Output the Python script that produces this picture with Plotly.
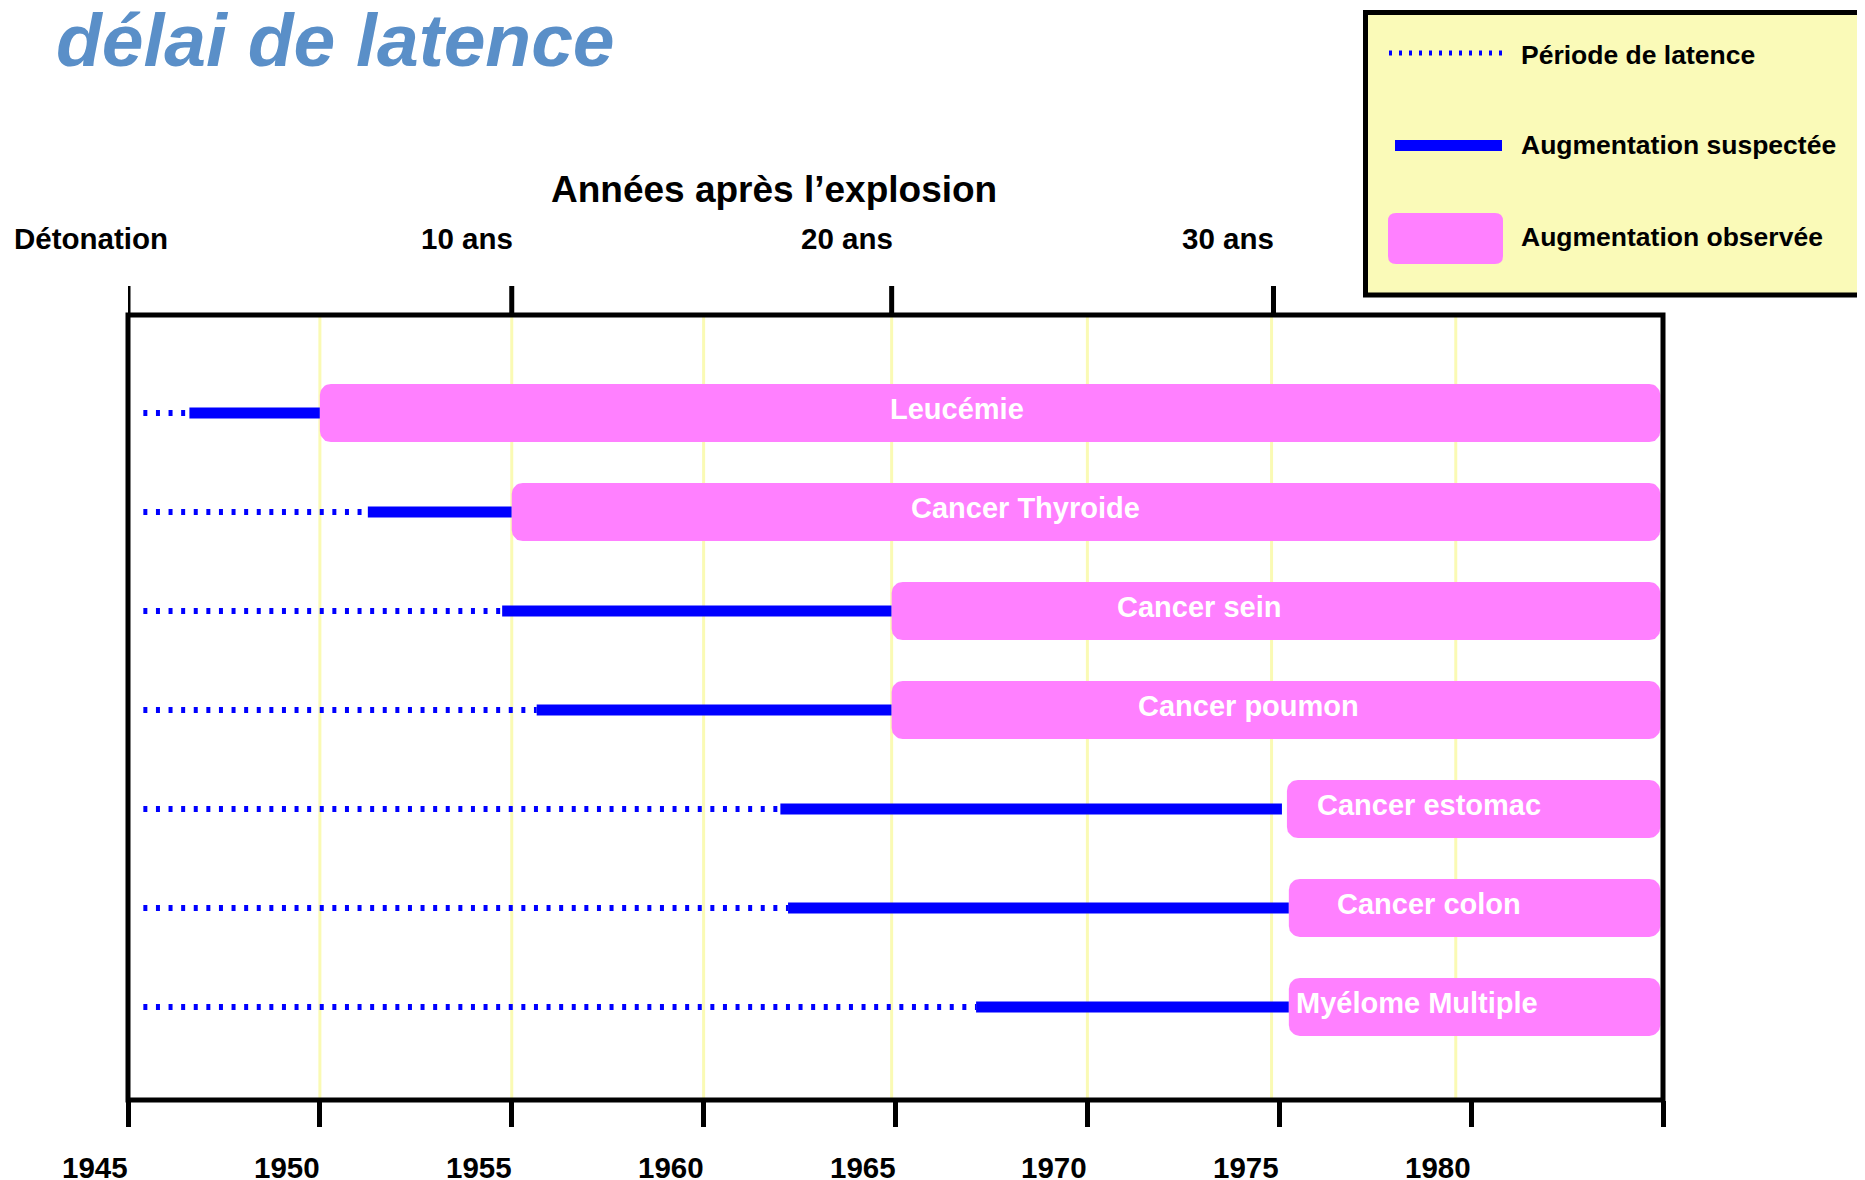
import math

import plotly.graph_objects as go

# rows, top to bottom
DISEASES = [
    "Leucémie",
    "Cancer Thyroide",
    "Cancer sein",
    "Cancer poumon",
    "Cancer estomac",
    "Cancer colon",
    "Myélome Multiple",
]
# calendar years
LATENCY_START = [1945.4, 1945.4, 1945.4, 1945.4, 1945.4, 1945.4, 1945.4]
SUSPECT_START = [1946.6, 1951.25, 1954.75, 1955.65, 1962.0, 1962.2, 1967.1]
SUSPECT_END = [1950.0, 1955.0, 1964.9, 1964.9, 1975.07, 1975.25, 1975.25]
OBSERVED_START = [1950.0, 1955.0, 1964.9, 1964.9, 1975.2, 1975.25, 1975.25]
OBSERVED_END = [1984.93, 1984.93, 1984.93, 1984.93, 1984.93, 1984.93, 1984.93]
LABEL_X = [1966.6, 1968.4, 1972.9, 1974.2, 1978.9, 1978.9, 1978.6]

BOTTOM_TICK_YEARS = [1945, 1950, 1955, 1960, 1965, 1970, 1975, 1980, 1985]
BOTTOM_TICK_LABELS = ["1945", "1950", "1955", "1960", "1965", "1970", "1975", "1980", ""]
TOP_TICK_YEARS = [1945, 1955, 1964.9, 1974.85]
TOP_TICK_LABELS = ["Détonation", "10 ans", "20 ans", "30 ans"]
GRID_YEARS = [1950, 1955, 1960, 1964.9, 1970, 1974.8, 1979.6]

LEGEND_LABELS = ["Période de latence", "Augmentation suspectée", "Augmentation observée"]

FONT = "Liberation Sans, Arial, sans-serif"
BLUE = "#0000FF"
PINK = "#FF80FF"
GRID = "#FAFAB4"
LEGEND_BG = "#FAFAB8"
TITLE_BLUE = "#5A8FC8"

# the page body adds an 8px margin; work in page pixels and convert
PAGE_OFF = 8
FIG_W, FIG_H = 1865 - PAGE_OFF, 1180 - PAGE_OFF
PLOT_L, PLOT_T, PLOT_W, PLOT_H = 128 - PAGE_OFF, 315 - PAGE_OFF, 1535, 785
PX_PER_YEAR = PLOT_W / 40
PX_PER_ROW = 98.9
BAR_HALF = 0.293
CORNER = 11


def px_x(px):
    return (px - PAGE_OFF - PLOT_L) / PLOT_W


def px_y(py):
    return 1 - (py - PAGE_OFF - PLOT_T) / PLOT_H


def rounded_box(x0, x1, yc, hh, rx, ry, n=8):
    xs, ys = [], []
    corners = [
        (x1 - rx, yc + hh - ry, 0),
        (x0 + rx, yc + hh - ry, 90),
        (x0 + rx, yc - hh + ry, 180),
        (x1 - rx, yc - hh + ry, 270),
    ]
    for cx, cy, a0 in corners:
        for k in range(n + 1):
            t = math.radians(a0 + 90 * k / n)
            xs.append(cx + rx * math.cos(t))
            ys.append(cy + ry * math.sin(t))
    xs.append(xs[0])
    ys.append(ys[0])
    return xs, ys


def rounded_path(w, h, r):
    return (
        f"M {-w + r},{-h} L {w - r},{-h} Q {w},{-h} {w},{-h + r} "
        f"L {w},{h - r} Q {w},{h} {w - r},{h} L {-w + r},{h} "
        f"Q {-w},{h} {-w},{h - r} L {-w},{-h + r} Q {-w},{-h} {-w + r},{-h} Z"
    )


rows = list(range(len(DISEASES)))
fig = go.Figure()

# latency period (dotted)
dot_x, dot_y = [], []
for r, a, b in zip(rows, LATENCY_START, SUSPECT_START):
    dot_x += [a, b, None]
    dot_y += [r, r, None]
fig.add_trace(go.Scatter(
    x=dot_x, y=dot_y, mode="lines",
    line=dict(color=BLUE, width=6, dash="4px,8.6px"),
    hoverinfo="skip", showlegend=False,
))

# suspected increase (solid)
sol_x, sol_y = [], []
for r, a, b in zip(rows, SUSPECT_START, SUSPECT_END):
    sol_x += [a, b, None]
    sol_y += [r, r, None]
fig.add_trace(go.Scatter(
    x=sol_x, y=sol_y, mode="lines",
    line=dict(color=BLUE, width=11),
    hoverinfo="skip", showlegend=False,
))

# observed increase: rounded boxes
rx = CORNER / PX_PER_YEAR
ry = CORNER / PX_PER_ROW
for r, a, b in zip(rows, OBSERVED_START, OBSERVED_END):
    bx, by = rounded_box(a, b, r, BAR_HALF, rx, ry)
    fig.add_trace(go.Scatter(
        x=bx, y=by, mode="lines", fill="toself", fillcolor=PINK,
        line=dict(color=PINK, width=0),
        hoverinfo="skip", showlegend=False,
    ))

shapes = []
for yr in GRID_YEARS:
    shapes.append(dict(type="line", xref="x", yref="paper", x0=yr, x1=yr, y0=0, y1=1,
                       line=dict(color=GRID, width=3), layer="below"))
# plot frame
shapes.append(dict(type="rect", xref="paper", yref="paper", x0=0, x1=1, y0=0, y1=1,
                   line=dict(color="black", width=5)))
# top "years after" ticks
for yr in TOP_TICK_YEARS:
    shapes.append(dict(type="line", xref="x", yref="paper", x0=yr, x1=yr,
                       y0=1, y1=px_y(286), line=dict(color="black", width=5)))

# legend box
shapes.append(dict(type="rect", xref="paper", yref="paper",
                   x0=px_x(1365.5), x1=px_x(1880), y0=px_y(295), y1=px_y(12.5),
                   fillcolor=LEGEND_BG, line=dict(color="black", width=5)))
shapes.append(dict(type="line", xref="paper", yref="paper",
                   x0=px_x(1389), x1=px_x(1507), y0=px_y(53), y1=px_y(53),
                   line=dict(color=BLUE, width=5, dash="3px,7px")))
shapes.append(dict(type="line", xref="paper", yref="paper",
                   x0=px_x(1395), x1=px_x(1502), y0=px_y(145.5), y1=px_y(145.5),
                   line=dict(color=BLUE, width=11)))
shapes.append(dict(type="path", xref="paper", yref="paper",
                   xsizemode="pixel", ysizemode="pixel",
                   xanchor=px_x(1445.5), yanchor=px_y(238.5),
                   path=rounded_path(57.5, 25.5, 8),
                   fillcolor=PINK, line=dict(width=0)))

annotations = [
    dict(text="<b><i>délai de latence</i></b>", xref="paper", yref="paper",
         x=px_x(54), y=px_y(40), xanchor="left", yanchor="middle", showarrow=False,
         font=dict(family=FONT, size=75, color=TITLE_BLUE)),
    dict(text="<b>Années après l’explosion</b>", xref="paper", yref="paper",
         x=px_x(774), y=px_y(189), xanchor="center", yanchor="middle", showarrow=False,
         font=dict(family=FONT, size=37, color="black")),
]
for i, (yr, lab) in enumerate(zip(TOP_TICK_YEARS, TOP_TICK_LABELS)):
    annotations.append(dict(
        text=f"<b>{lab}</b>", xref="x", yref="paper", x=yr, y=px_y(238.5),
        xanchor="right", yanchor="middle", xshift=42 if i == 0 else 3, showarrow=False,
        font=dict(family=FONT, size=29.5, color="black"),
    ))
for yr, lab in zip(BOTTOM_TICK_YEARS, BOTTOM_TICK_LABELS):
    if lab:
        annotations.append(dict(
            text=f"<b>{lab}</b>", xref="x", yref="paper", x=yr, y=px_y(1167),
            xanchor="right", yanchor="middle", xshift=2, showarrow=False,
            font=dict(family=FONT, size=29.5, color="black"),
        ))
for r, name, lx in zip(rows, DISEASES, LABEL_X):
    annotations.append(dict(
        text=f"<b>{name}</b>", xref="x", yref="y", x=lx, y=r,
        xanchor="center", yanchor="middle", yshift=4, showarrow=False,
        font=dict(family=FONT, size=29, color="white"),
    ))
for lab, py in zip(LEGEND_LABELS, [55, 145, 237]):
    annotations.append(dict(
        text=f"<b>{lab}</b>", xref="paper", yref="paper", x=px_x(1519), y=px_y(py),
        xanchor="left", yanchor="middle", showarrow=False,
        font=dict(family=FONT, size=26.5, color="black"),
    ))

fig.update_layout(
    width=FIG_W,
    height=FIG_H,
    margin=dict(l=PLOT_L, r=FIG_W - PLOT_L - PLOT_W, t=PLOT_T, b=FIG_H - PLOT_T - PLOT_H),
    paper_bgcolor="white",
    plot_bgcolor="white",
    showlegend=False,
    hovermode=False,
    xaxis=dict(
        range=[1945, 1985], tickvals=BOTTOM_TICK_YEARS, ticktext=BOTTOM_TICK_LABELS,
        showticklabels=False, ticks="outside", ticklen=26, tickwidth=5, tickcolor="black",
        showgrid=False, zeroline=False, showline=False, fixedrange=True,
    ),
    yaxis=dict(
        range=[6.94, -0.99], showticklabels=False, showgrid=False, zeroline=False,
        showline=False, fixedrange=True,
    ),
    shapes=shapes,
    annotations=annotations,
    font=dict(family=FONT),
)

fig.write_html("out.html")
